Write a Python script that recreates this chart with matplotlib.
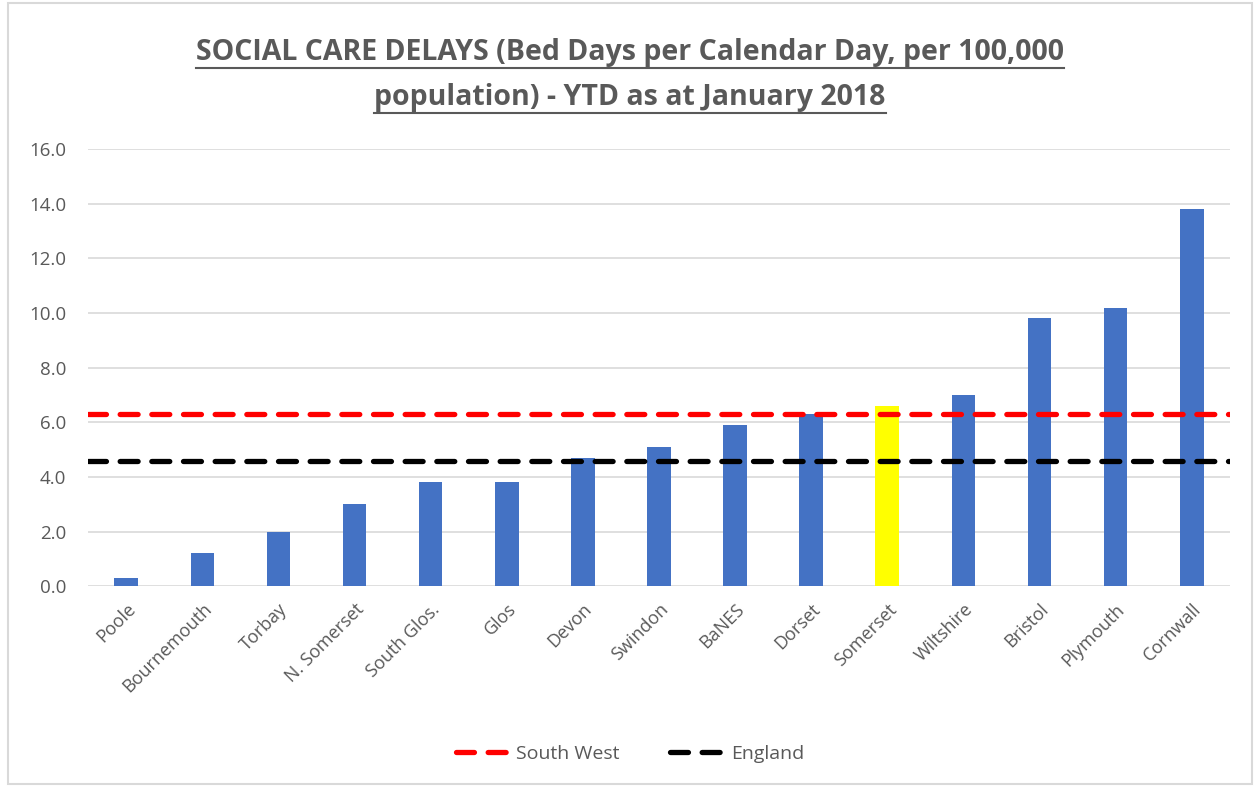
import matplotlib.pyplot as plt
from matplotlib.lines import Line2D
from matplotlib.patches import Rectangle

# Data
areas = ['Poole', 'Bournemouth', 'Torbay', 'N. Somerset', 'South Glos.', 'Glos',
         'Devon', 'Swindon', 'BaNES', 'Dorset', 'Somerset', 'Wiltshire',
         'Bristol', 'Plymouth', 'Cornwall']
delays = [0.3, 1.2, 2.0, 3.0, 3.8, 3.8, 4.7, 5.1, 5.9, 6.3, 6.6, 7.0, 9.8, 10.2, 13.8]
highlight = 'Somerset'
south_west = 6.3
england = 4.6

text_grey = '#595959'
bar_blue = '#4472c4'

plt.rcParams['font.family'] = ['Open Sans', 'DejaVu Sans']

fig = plt.figure(figsize=(12.6, 7.89), dpi=100)
ax = fig.add_axes([0.070, 0.257, 0.906, 0.554])

colors = ['#ffff00' if a == highlight else bar_blue for a in areas]
x = list(range(len(areas)))
ax.bar(x, delays, width=0.31, color=colors, zorder=2)

xs = [-0.5, len(areas) - 0.5]
ax.plot(xs, [south_west] * 2, color='#ff0000', lw=3.8, dashes=(3.4, 2.6),
        dash_capstyle='round', label='South West', zorder=3)
ax.plot(xs, [england] * 2, color='black', lw=3.8, dashes=(3.4, 2.6),
        dash_capstyle='round', label='England', zorder=3)

ax.set_xlim(-0.5, len(areas) - 0.5)
ax.set_ylim(0, 16)
ax.set_yticks([0, 2, 4, 6, 8, 10, 12, 14, 16])
ax.set_yticklabels([f'{v:.1f}' for v in [0, 2, 4, 6, 8, 10, 12, 14, 16]])
ax.set_xticks(x)
ax.set_xticklabels(areas, rotation=45, ha='right', rotation_mode='anchor')
ax.tick_params(axis='both', length=0, labelcolor=text_grey)
ax.tick_params(axis='y', labelsize=13.5, pad=16)
ax.tick_params(axis='x', labelsize=13, pad=10)
ax.grid(axis='y', color='#d9d9d9', lw=1.2, zorder=0)
for s in ax.spines.values():
    s.set_visible(False)

leg = fig.legend(loc='center', bbox_to_anchor=(0.5, 0.044), ncol=2, frameon=False,
                 fontsize=14, handlelength=2.6, columnspacing=2.6, handletextpad=0.5)
for t in leg.get_texts():
    t.set_color(text_grey)

# Title with underline
title_lines = ['SOCIAL CARE DELAYS (Bed Days per Calendar Day, per 100,000',
               'population) - YTD as at January 2018']
title_y = [0.934, 0.877]
fig.canvas.draw()
renderer = fig.canvas.get_renderer()
for line, ty in zip(title_lines, title_y):
    t = fig.text(0.5, ty, line, ha='center', va='center', fontsize=20.5,
                 fontweight='bold', color=text_grey)
    bb = t.get_window_extent(renderer).transformed(fig.transFigure.inverted())
    uy = bb.y0 - 0.002
    fig.add_artist(Line2D([bb.x0, bb.x1], [uy, uy], color=text_grey, lw=1.5))

# Chart border
fig.add_artist(Rectangle((0.006, 0.006), 0.988, 0.99, transform=fig.transFigure,
                         fill=False, edgecolor='#d9d9d9', lw=1.5))

fig.savefig('out.png', dpi=100)
